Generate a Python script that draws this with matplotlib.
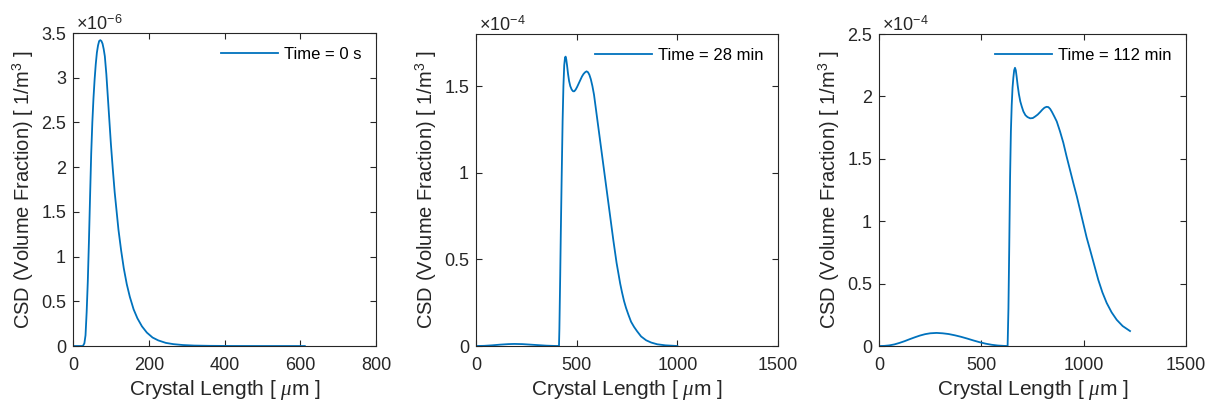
import numpy as np
import matplotlib.pyplot as plt
from matplotlib.ticker import FuncFormatter

plt.rcParams['font.family'] = ['Liberation Sans', 'DejaVu Sans']
plt.rcParams['mathtext.fontset'] = 'custom'
plt.rcParams['mathtext.rm'] = 'Liberation Sans'
plt.rcParams['mathtext.it'] = 'Liberation Serif:italic'

# t = 0 s, CSD in units of 1e-6
x0 = [0, 26, 30, 33, 36, 39, 42, 45, 48, 51, 54, 57, 60, 63, 66, 69, 72, 75,
      78, 81, 84, 88, 92, 96, 100, 105, 110, 115, 120, 127, 134, 142, 150, 160,
      170, 182, 195, 210, 225, 245, 265, 290, 320, 360, 420, 500, 612]
y0 = [0, 0, 0.03, 0.12, 0.38, 0.72, 1.17, 1.67, 2.15, 2.50, 2.77, 2.98, 3.15,
      3.28, 3.36, 3.41, 3.42, 3.41, 3.38, 3.32, 3.24, 3.04, 2.78, 2.52, 2.26,
      1.98, 1.72, 1.51, 1.30, 1.07, 0.87, 0.69, 0.55, 0.41, 0.31, 0.22, 0.15,
      0.095, 0.063, 0.035, 0.021, 0.011, 0.005, 0.002, 0.0005, 0, 0]

# t = 28 min, CSD in units of 1e-4
x28 = [0, 40, 80, 120, 160, 190, 230, 270, 310, 350, 390, 412, 414, 418, 421,
       425, 430, 434, 438, 442, 445, 448, 452, 457, 462, 468, 475, 482, 488,
       495, 502, 510, 518, 526, 534, 542, 549, 556, 563, 570, 578, 586, 594,
       602, 610, 618, 626, 634, 642, 650, 658, 666, 674, 682, 690, 698, 707,
       716, 725, 735, 745, 757, 770, 785, 800, 820, 845, 870, 900, 940, 1000]
y28 = [0, 0.001, 0.004, 0.008, 0.011, 0.012, 0.011, 0.008, 0.005, 0.002,
       0.0005, 0, 0.1, 0.4, 0.65, 0.95, 1.30, 1.50, 1.62, 1.665, 1.67, 1.655,
       1.62, 1.57, 1.53, 1.50, 1.48, 1.47, 1.47, 1.48, 1.495, 1.515, 1.535,
       1.555, 1.57, 1.58, 1.585, 1.58, 1.565, 1.54, 1.50, 1.45, 1.38, 1.31,
       1.24, 1.17, 1.10, 1.03, 0.96, 0.89, 0.82, 0.75, 0.68, 0.61, 0.545, 0.48,
       0.42, 0.36, 0.31, 0.26, 0.22, 0.18, 0.14, 0.11, 0.085, 0.055, 0.033,
       0.02, 0.01, 0.004, 0]

# t = 112 min, CSD in units of 1e-4
x112 = [0, 25, 50, 75, 100, 125, 150, 175, 200, 225, 250, 281, 310, 340, 370,
        400, 430, 460, 490, 520, 550, 580, 610, 628, 632, 636, 640, 644, 648,
        652, 656, 660, 664, 668, 672, 677, 683, 690, 697, 705, 715, 725, 738,
        751, 763, 775, 787, 798, 808, 818, 827, 836, 845, 856, 868, 884, 900,
        916, 933, 950, 966, 982, 998, 1014, 1031, 1051, 1071, 1091, 1112, 1136,
        1161, 1190, 1226]
y112 = [0, 0.001, 0.005, 0.013, 0.025, 0.039, 0.055, 0.070, 0.084, 0.095,
        0.102, 0.105, 0.102, 0.096, 0.086, 0.074, 0.060, 0.045, 0.031, 0.019,
        0.010, 0.004, 0.001, 0, 0.3, 0.8, 1.35, 1.72, 1.93, 2.07, 2.15, 2.21,
        2.23, 2.21, 2.16, 2.09, 2.02, 1.96, 1.92, 1.88, 1.85, 1.835, 1.825,
        1.827, 1.84, 1.855, 1.875, 1.895, 1.91, 1.917, 1.915, 1.90, 1.875, 1.84,
        1.80, 1.72, 1.63, 1.52, 1.41, 1.30, 1.20, 1.09, 0.98, 0.87, 0.77, 0.65,
        0.53, 0.43, 0.345, 0.27, 0.21, 0.16, 0.12]

panels = [
    (x0, y0, 'Time = 0 s', (0, 800), (0, 3.5), np.arange(0, 801, 200),
     np.arange(0, 3.51, 0.5), '-6'),
    (x28, y28, 'Time = 28 min', (0, 1500), (0, 1.8), np.arange(0, 1501, 500),
     np.arange(0, 1.81, 0.5), '-4'),
    (x112, y112, 'Time = 112 min', (0, 1500), (0, 2.5), np.arange(0, 1501, 500),
     np.arange(0, 2.51, 0.5), '-4'),
]
positions = [[0.0605, 0.1414, 0.251, 0.7767],
             [0.3944, 0.1414, 0.2502, 0.774],
             [0.7283, 0.1414, 0.2544, 0.774]]

fig = plt.figure(figsize=(12.07, 4.03), dpi=100)
dark = '#262626'
for (x, y, lab, xl, yl, xt, yt, ex), pos in zip(panels, positions):
    ax = fig.add_axes(pos)
    ax.plot(x, y, color='#0072BD', lw=1.3, label=lab)
    ax.set_xlim(*xl)
    ax.set_ylim(*yl)
    ax.set_xticks(xt)
    ax.set_yticks(yt)
    ax.yaxis.set_major_formatter(FuncFormatter(lambda v, p: '%g' % round(v, 3)))
    ax.tick_params(direction='in', top=True, right=True, length=4,
                   labelsize=13, colors=dark, width=0.8)
    ax.tick_params(axis='x', pad=8)
    ax.tick_params(axis='y', pad=5)
    for s in ax.spines.values():
        s.set_color(dark)
        s.set_linewidth(0.8)
    ax.set_xlabel(r'Crystal Length [ $\mu$m ]', fontsize=15, color=dark,
                  labelpad=3)
    ax.set_ylabel(r'CSD (Volume Fraction) [ 1/m$^3$ ]', fontsize=14.5,
                  color=dark)
    ax.text(0.01, 0.998, r'$\times$10$^{%s}$' % ex, transform=ax.transAxes,
            fontsize=13, color=dark, va='bottom', ha='left')
    ax.legend(loc='upper right', frameon=False, fontsize=12, handlelength=3.4,
              handletextpad=0.4, borderaxespad=0.45)

fig.savefig('out.png', dpi=100)
